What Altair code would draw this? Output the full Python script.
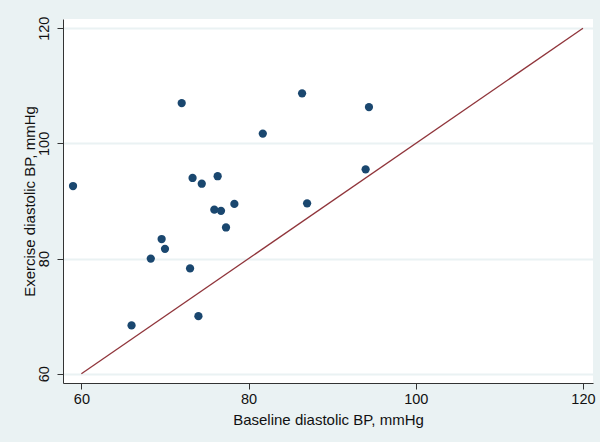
import altair as alt
import pandas as pd

baseline = [59.0, 66.0, 68.3, 69.6, 70.0, 72.0, 73.0, 73.3, 74.0, 74.4,
            75.9, 76.7, 76.3, 77.3, 78.3, 81.7, 86.4, 87.0, 94.0, 94.4]
exercise = [92.6, 68.4, 80.0, 83.4, 81.7, 107.0, 78.3, 94.0, 70.0, 93.0,
            88.5, 88.3, 94.3, 85.4, 89.5, 101.7, 108.7, 89.6, 95.5, 106.3]
line_x = [60, 120]
line_y = [60, 120]
ticks = [60, 80, 100, 120]

pts = pd.DataFrame({"x": baseline, "y": exercise})
ref = pd.DataFrame({"x": line_x, "y": line_y})

FONT = "Liberation Sans"
xscale = alt.Scale(domain=[57.8, 121.2], nice=False, zero=False)
yscale = alt.Scale(domain=[58.4, 121.6], nice=False, zero=False)

xaxis = alt.Axis(title="Baseline diastolic BP, mmHg", values=ticks, grid=False,
                 tickSize=6, tickColor="#333333", domainColor="#333333",
                 labelFont=FONT, labelFontSize=14.5, labelColor="#111111",
                 labelPadding=3, titleFont=FONT, titleFontSize=15,
                 titleFontWeight="normal", titleColor="#111111", titlePadding=7,
                 labelFlush=False)
yaxis = alt.Axis(title="Exercise diastolic BP, mmHg", values=ticks, grid=True,
                 gridColor="#eaf2f3", gridWidth=2,
                 tickSize=6, tickColor="#333333", domainColor="#333333",
                 labelFont=FONT, labelFontSize=14.5, labelColor="#111111",
                 labelAngle=270, labelAlign="center", labelBaseline="bottom",
                 labelPadding=6, titleFont=FONT, titleFontSize=15,
                 titleFontWeight="normal", titleColor="#111111", titlePadding=-1,
                 labelFlush=False)

line = alt.Chart(ref).mark_line(color="#90353b", strokeWidth=1.3, clip=True).encode(
    x=alt.X("x:Q", scale=xscale, axis=xaxis),
    y=alt.Y("y:Q", scale=yscale, axis=yaxis),
)
points = alt.Chart(pts).mark_circle(size=68, color="#1a476f", opacity=1).encode(
    x=alt.X("x:Q", scale=xscale, axis=xaxis),
    y=alt.Y("y:Q", scale=yscale, axis=yaxis),
)

chart = alt.layer(line, points).properties(
    width=530, height=364,
    background="#eaf2f3",
    padding={"left": 63, "top": 19, "right": 7, "bottom": 59},
    autosize=alt.AutoSizeParams(type="none"),
).configure_view(fill="white", stroke=None)

chart.save("out.html", embed_options={"renderer": "svg", "actions": False})
